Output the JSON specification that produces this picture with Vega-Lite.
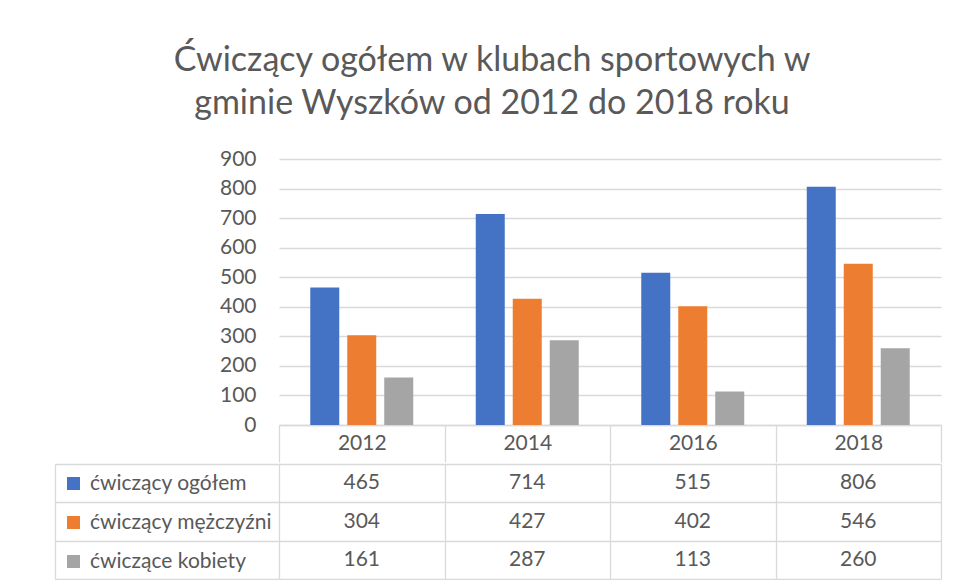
{
  "$schema": "https://vega.github.io/schema/vega-lite/v6.json",
  "padding": {"left": 54, "top": 44, "right": 10, "bottom": 0},
  "background": "white",
  "title": {
    "text": ["Ćwiczący ogółem w klubach sportowych w", "gminie Wyszków od 2012 do 2018 roku"],
    "fontSize": 34,
    "lineHeight": 43,
    "font": "Lato",
    "fontWeight": "normal",
    "color": "#595959",
    "anchor": "middle",
    "dx": -6,
    "offset": 27
  },
  "datasets": {
    "d": [
      {"year": "2012", "series": "ćwiczący ogółem", "value": 465},
      {"year": "2012", "series": "ćwiczący mężczyźni", "value": 304},
      {"year": "2012", "series": "ćwiczące kobiety", "value": 161},
      {"year": "2014", "series": "ćwiczący ogółem", "value": 714},
      {"year": "2014", "series": "ćwiczący mężczyźni", "value": 427},
      {"year": "2014", "series": "ćwiczące kobiety", "value": 287},
      {"year": "2016", "series": "ćwiczący ogółem", "value": 515},
      {"year": "2016", "series": "ćwiczący mężczyźni", "value": 402},
      {"year": "2016", "series": "ćwiczące kobiety", "value": 113},
      {"year": "2018", "series": "ćwiczący ogółem", "value": 806},
      {"year": "2018", "series": "ćwiczący mężczyźni", "value": 546},
      {"year": "2018", "series": "ćwiczące kobiety", "value": 260}
    ]
  },
  "data": {"name": "d"},
  "config": {
    "font": "Lato",
    "view": {"stroke": null},
    "axis": {
      "labelFont": "Lato",
      "labelColor": "#595959",
      "labelFontSize": 21,
      "gridColor": "#d9d9d9",
      "gridWidth": 1.3,
      "domainColor": "#d9d9d9",
      "domainWidth": 1.3,
      "tickColor": "#d9d9d9",
      "tickWidth": 1.3
    },
    "legend": {
      "labelFont": "Lato",
      "labelFontSize": 21,
      "labelColor": "#595959",
      "labelLimit": 300
    }
  },
  "spacing": 0,
  "resolve": {"legend": {"color": "independent"}},
  "vconcat": [
    {
      "width": 662,
      "height": 266,
      "mark": {"type": "bar"},
      "encoding": {
        "x": {
          "field": "year", "type": "nominal",
          "scale": {"paddingInner": 0, "paddingOuter": 0},
          "axis": {
            "title": null, "labelAngle": 0, "orient": "bottom",
            "domain": true, "ticks": true, "tickSize": 37, "tickBand": "extent",
            "labelBaseline": "middle", "labelPadding": -19, "grid": false
          }
        },
        "xOffset": {
          "field": "series", "type": "nominal",
          "sort": ["ćwiczący ogółem", "ćwiczący mężczyźni", "ćwiczące kobiety"],
          "scale": {"paddingInner": 0.216, "paddingOuter": 0.845}
        },
        "y": {
          "field": "value", "type": "quantitative",
          "scale": {"domain": [0, 900], "nice": false},
          "axis": {
            "title": null, "values": [0, 100, 200, 300, 400, 500, 600, 700, 800, 900],
            "domain": false, "ticks": false, "labelPadding": 23, "grid": true
          }
        },
        "color": {
          "field": "series", "type": "nominal",
          "scale": {
            "domain": ["ćwiczący ogółem", "ćwiczący mężczyźni", "ćwiczące kobiety"],
            "range": ["#4472C4", "#ED7D31", "#A5A5A5"]
          },
          "legend": null
        }
      }
    },
    {
      "width": 662,
      "height": 115,
      "encoding": {
        "x": {
          "field": "year", "type": "nominal",
          "scale": {"paddingInner": 0, "paddingOuter": 0},
          "axis": {
            "orient": "top", "title": null, "labels": false, "domain": false,
            "ticks": false, "grid": true, "tickBand": "extent"
          }
        },
        "y": {
          "field": "series", "type": "nominal",
          "sort": ["ćwiczący ogółem", "ćwiczący mężczyźni", "ćwiczące kobiety"],
          "scale": {"paddingInner": 0, "paddingOuter": 0},
          "axis": {
            "orient": "left", "offset": 224, "title": null, "labels": false,
            "domain": true, "ticks": true, "tickSize": -224, "tickBand": "extent", "grid": true
          }
        }
      },
      "layer": [
        {
          "mark": {"type": "text", "fontSize": 21, "color": "#595959", "baseline": "middle", "align": "center"},
          "encoding": {"text": {"field": "value", "type": "quantitative"}}
        },
        {
          "mark": {"type": "square", "opacity": 0},
          "encoding": {
            "color": {
              "field": "series", "type": "nominal",
              "scale": {
                "domain": ["ćwiczący ogółem", "ćwiczący mężczyźni", "ćwiczące kobiety"],
                "range": ["#4472C4", "#ED7D31", "#A5A5A5"]
              },
              "legend": {
                "orient": "none", "legendX": -216, "legendY": 9, "title": null,
                "symbolType": "square", "symbolSize": 169, "symbolOpacity": 1,
                "symbolStrokeWidth": 0, "rowPadding": 17, "labelOffset": 6,
                "padding": 0, "direction": "vertical"
              }
            }
          }
        }
      ]
    }
  ]
}
